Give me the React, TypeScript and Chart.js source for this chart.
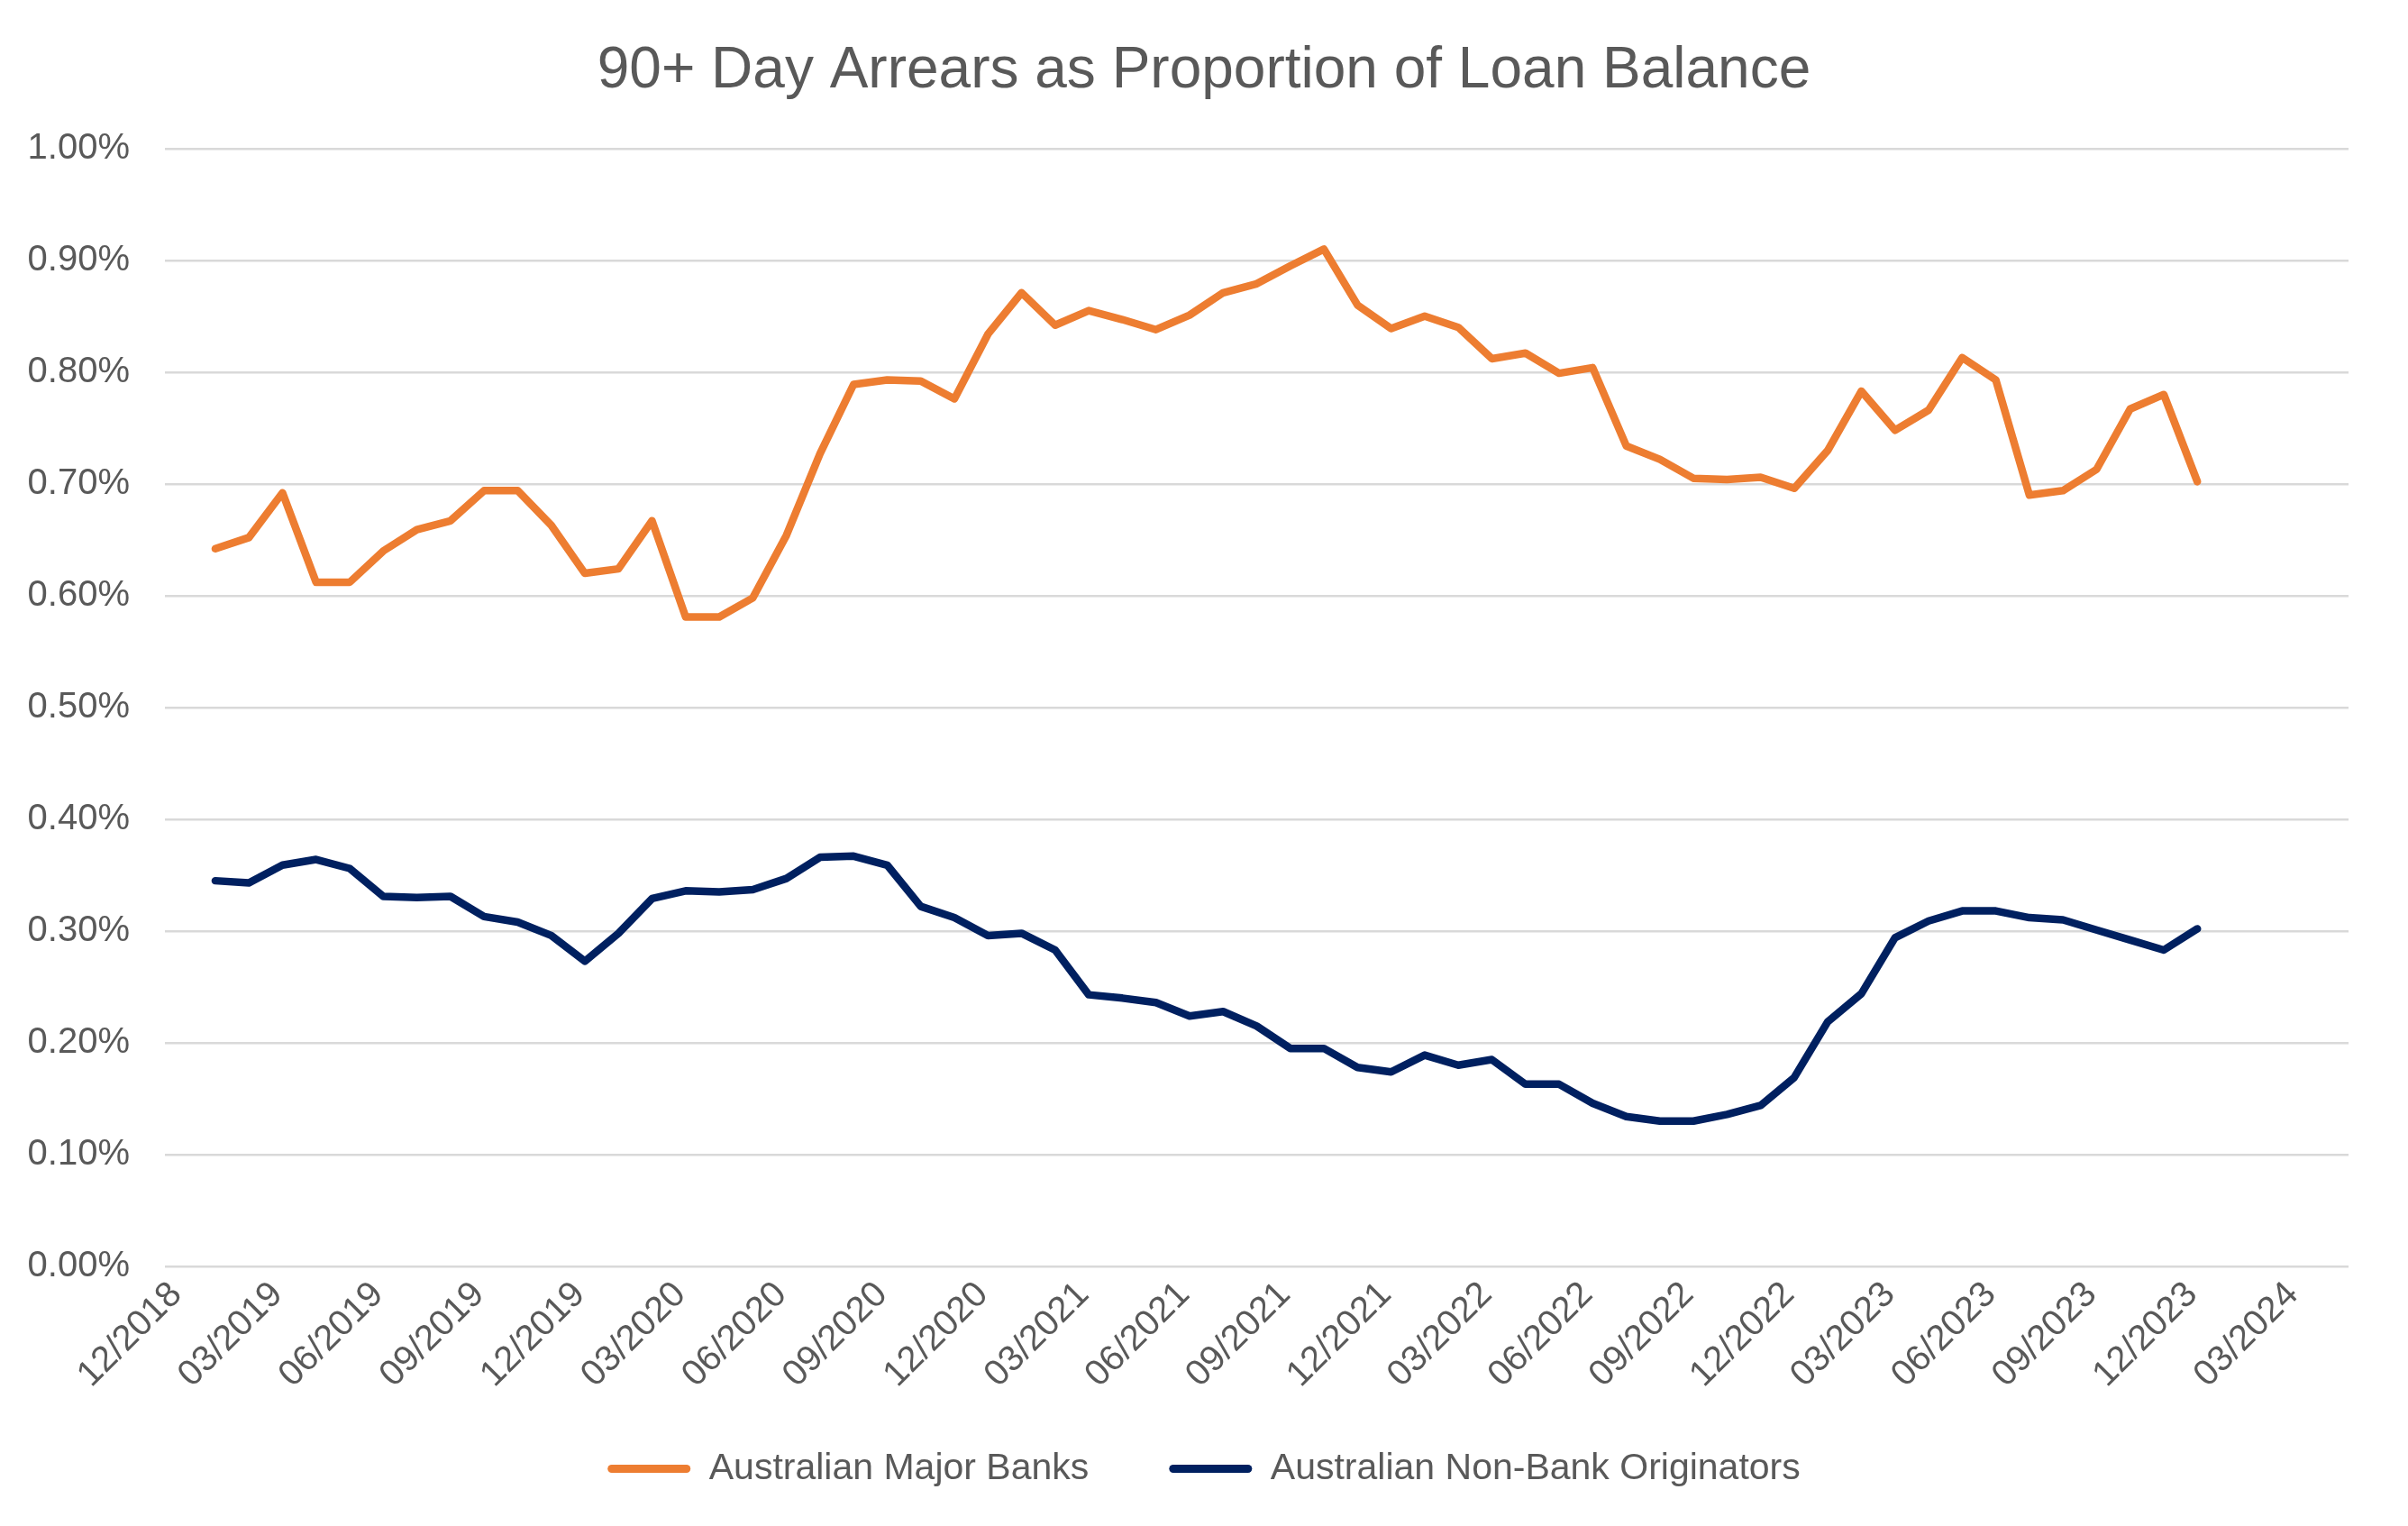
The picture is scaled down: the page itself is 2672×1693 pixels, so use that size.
import React, { useEffect, useRef } from 'react';
import Chart from 'chart.js/auto';

// months shown on the axis (Excel date axis runs 12/2018 .. 04/2024)
const axisMonths = [
  '12/2018',
  '01/2019', '02/2019', '03/2019', '04/2019', '05/2019', '06/2019', '07/2019', '08/2019', '09/2019', '10/2019', '11/2019', '12/2019',
  '01/2020', '02/2020', '03/2020', '04/2020', '05/2020', '06/2020', '07/2020', '08/2020', '09/2020', '10/2020', '11/2020', '12/2020',
  '01/2021', '02/2021', '03/2021', '04/2021', '05/2021', '06/2021', '07/2021', '08/2021', '09/2021', '10/2021', '11/2021', '12/2021',
  '01/2022', '02/2022', '03/2022', '04/2022', '05/2022', '06/2022', '07/2022', '08/2022', '09/2022', '10/2022', '11/2022', '12/2022',
  '01/2023', '02/2023', '03/2023', '04/2023', '05/2023', '06/2023', '07/2023', '08/2023', '09/2023', '10/2023', '11/2023', '12/2023',
  '01/2024', '02/2024', '03/2024', '04/2024',
];

// months with data: 01/2019 .. 12/2023
const dataMonths = axisMonths.slice(1, 61);

// 90+ day arrears, % of loan balance
const majorBanks = [
  0.642, 0.652, 0.692, 0.612, 0.612, 0.640, 0.659, 0.667, 0.694, 0.694,
  0.663, 0.620, 0.624, 0.667, 0.581, 0.581, 0.598, 0.654, 0.727, 0.789,
  0.793, 0.792, 0.776, 0.834, 0.871, 0.842, 0.855, 0.847, 0.838, 0.851,
  0.871, 0.879, 0.895, 0.910, 0.860, 0.839, 0.850, 0.840, 0.812, 0.817,
  0.799, 0.804, 0.734, 0.722, 0.705, 0.704, 0.706, 0.696, 0.730, 0.783,
  0.748, 0.766, 0.813, 0.793, 0.690, 0.694, 0.713, 0.767, 0.780, 0.702,
];

const nonBank = [
  0.345, 0.343, 0.359, 0.364, 0.356, 0.331, 0.330, 0.331, 0.313, 0.308,
  0.296, 0.273, 0.298, 0.329, 0.336, 0.335, 0.337, 0.347, 0.366, 0.367,
  0.359, 0.322, 0.312, 0.296, 0.298, 0.283, 0.243, 0.240, 0.236, 0.224,
  0.228, 0.215, 0.195, 0.195, 0.178, 0.174, 0.189, 0.180, 0.185, 0.163,
  0.163, 0.146, 0.134, 0.130, 0.130, 0.136, 0.144, 0.169, 0.219, 0.244,
  0.294, 0.309, 0.318, 0.318, 0.312, 0.310, 0.301, 0.292, 0.283, 0.302,
];

const FONT = "'Liberation Sans', Arial, sans-serif";
const TEXT = '#595959';

// pulls the legend up a little after layout, so the item spacing can stay wide
const legendShift = {
  id: 'legendShift',
  afterLayout(chart: any) {
    const legend = chart.legend;
    if (legend) {
      legend.top -= 33;
      legend.bottom -= 33;
    }
  },
};

const App: React.FC = () => {
  const chartRef = useRef<HTMLCanvasElement | null>(null);

  useEffect(() => {
    document.body.style.margin = '0';
    if (!chartRef.current) return;
    const ctx = chartRef.current.getContext('2d');
    if (!ctx) return;

    const chart = new Chart(ctx, {
      type: 'line',
      data: {
        labels: axisMonths,
        datasets: [
          {
            label: 'Australian Major Banks',
            data: dataMonths.map((m, i) => ({ x: m, y: majorBanks[i] })),
            borderColor: '#ED7D31',
            backgroundColor: '#ED7D31',
            borderWidth: 8.5,
            pointRadius: 0,
            tension: 0,
            borderCapStyle: 'round',
            borderJoinStyle: 'round',
          },
          {
            label: 'Australian Non-Bank Originators',
            data: dataMonths.map((m, i) => ({ x: m, y: nonBank[i] })),
            borderColor: '#002060',
            backgroundColor: '#002060',
            borderWidth: 8.5,
            pointRadius: 0,
            tension: 0,
            borderCapStyle: 'round',
            borderJoinStyle: 'round',
          },
        ],
      },
      plugins: [legendShift],
      options: {
        animation: false,
        responsive: true,
        maintainAspectRatio: false,
        devicePixelRatio: 1,
        layout: { padding: { top: 0, left: 0, right: 0, bottom: 0 } },
        plugins: {
          title: {
            display: true,
            text: '90+ Day Arrears as Proportion of Loan Balance',
            color: TEXT,
            font: { family: FONT, size: 64, weight: 'normal' },
            padding: { top: 41, bottom: 47 },
          },
          legend: {
            position: 'bottom',
            labels: {
              color: TEXT,
              font: { family: FONT, size: 41 },
              boxWidth: 92,
              boxHeight: 9,
              padding: 89,
              useBorderRadius: true,
              borderRadius: 4.5,
              generateLabels: (c) =>
                Chart.defaults.plugins.legend.labels
                  .generateLabels(c)
                  .map((item) => ({ ...item, lineWidth: 0 })),
            },
          },
          tooltip: { enabled: false },
        },
        scales: {
          x: {
            type: 'category',
            offset: true,
            grid: { display: false },
            border: { display: false },
            ticks: {
              autoSkip: false,
              maxRotation: 45,
              minRotation: 45,
              padding: 0,
              labelOffset: -6,
              color: TEXT,
              font: { family: FONT, size: 40 },
              callback: (_v, i) => (i % 3 === 0 ? axisMonths[i] : null),
            },
            afterFit: (scale) => {
              scale.height = 148;
            },
          },
          y: {
            min: 0,
            max: 1,
            grid: { color: '#D9D9D9', lineWidth: 2.5, drawTicks: false },
            border: { display: false },
            ticks: {
              stepSize: 0.1,
              padding: 39,
              color: TEXT,
              font: { family: FONT, size: 40 },
              callback: (v) => Number(v).toFixed(2) + '%',
            },
            afterFit: (scale) => {
              scale.width = 183;
            },
          },
          yRight: {
            position: 'right',
            grid: { display: false },
            border: { display: false },
            ticks: { display: false },
            afterFit: (scale) => {
              scale.width = 66;
            },
          },
        },
      },
    });

    return () => {
      chart.destroy();
    };
  }, []);

  return (
    <div style={{ width: 2672, height: 1693, background: '#fff' }}>
      <canvas ref={chartRef} />
    </div>
  );
};

export default App;
